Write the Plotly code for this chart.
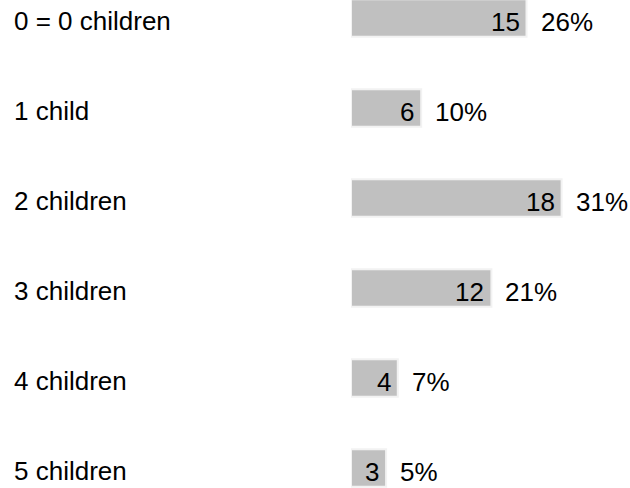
import plotly.graph_objects as go

categories = ["0 = 0 children", "1 child", "2 children", "3 children", "4 children", "5 children"]
counts = [15, 6, 18, 12, 4, 3]
percent_labels = ["26%", "10%", "31%", "21%", "7%", "5%"]

FONT = "Arial, Liberation Sans, sans-serif"
FS = 26

fig = go.Figure()
fig.add_trace(go.Bar(
    x=counts, y=categories, orientation="h",
    width=0.417,
    marker=dict(color="#c0c0c0", line=dict(color="#f2f2f2", width=2)),
    hoverinfo="skip",
))

annotations = []
for cat, v, p in zip(categories, counts, percent_labels):
    annotations.append(dict(x=v, y=cat, xref="x", yref="y", text=str(v), showarrow=False,
                            xanchor="right", yanchor="middle", xshift=-5, yshift=-4,
                            font=dict(family=FONT, size=FS, color="#000000")))
    annotations.append(dict(x=v, y=cat, xref="x", yref="y", text=p, showarrow=False,
                            xanchor="left", yanchor="middle", xshift=12, yshift=-4,
                            font=dict(family=FONT, size=FS, color="#000000")))
    annotations.append(dict(x=12/630, y=cat, xref="paper", yref="y", text=cat, showarrow=False,
                            xanchor="left", yanchor="middle", yshift=-3,
                            font=dict(family=FONT, size=FS, color="#000000")))

fig.update_layout(
    width=630, height=488,
    margin=dict(l=0, r=0, t=0, b=0),
    paper_bgcolor="white", plot_bgcolor="white",
    showlegend=False,
    hovermode=False,
    annotations=annotations,
    xaxis=dict(domain=[351/630, 1], range=[0, (630-351)/11.7], visible=False,
               showgrid=False, zeroline=False),
    yaxis=dict(type="category", categoryorder="array", categoryarray=categories,
               range=[5.222, -0.2], visible=False, showgrid=False, zeroline=False),
)

fig.write_html("out.html", config={"displayModeBar": False},
               post_script="document.body.style.margin='0';document.body.style.padding='0';document.body.style.overflow='hidden';")
